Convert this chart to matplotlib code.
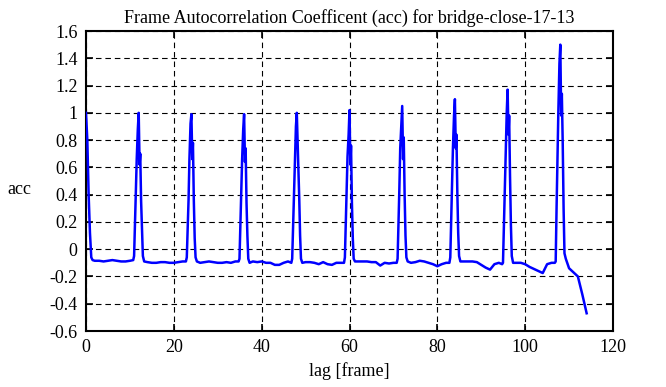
import numpy as np
import matplotlib
matplotlib.use("Agg")
import matplotlib.pyplot as plt

plt.rcParams['font.family'] = ['Liberation Serif', 'DejaVu Serif']
plt.rcParams['axes.unicode_minus'] = False

# lag 0 peak (right half only)
start_lag = [0, 0.3, 0.6, 0.9, 1.2]
start_acc = [1.0, 0.8, 0.4, 0.12, -0.06]

# baseline between peaks
base_lag = [1.5, 2, 3, 4, 5, 6, 7, 8, 9, 10,
            14, 15, 16, 17, 18, 19, 20, 21, 22,
            26, 27, 28, 29, 30, 31, 32, 33, 34,
            38, 39, 40, 41, 42, 43, 44, 45, 46,
            50, 51, 52, 53, 54, 55, 56, 57, 58,
            62, 63, 64, 65, 66, 67, 68, 69, 70,
            74, 75, 76, 77, 78, 79, 80, 81, 82,
            86, 87, 88, 89, 90, 91, 92, 93, 94,
            98, 99, 100, 101, 102, 103, 104, 105, 106,
            110, 111, 112, 113, 114]
base_acc = [-0.08, -0.085, -0.085, -0.09, -0.085, -0.08, -0.085, -0.09, -0.09, -0.085,
            -0.095, -0.10, -0.10, -0.095, -0.095, -0.10, -0.10, -0.095, -0.09,
            -0.10, -0.095, -0.09, -0.095, -0.10, -0.10, -0.095, -0.10, -0.09,
            -0.09, -0.095, -0.09, -0.10, -0.10, -0.115, -0.115, -0.10, -0.09,
            -0.095, -0.095, -0.10, -0.11, -0.095, -0.11, -0.115, -0.10, -0.10,
            -0.09, -0.09, -0.09, -0.095, -0.095, -0.12, -0.10, -0.105, -0.10,
            -0.10, -0.095, -0.085, -0.09, -0.10, -0.11, -0.125, -0.11, -0.10,
            -0.09, -0.09, -0.09, -0.095, -0.115, -0.135, -0.15, -0.11, -0.10,
            -0.10, -0.10, -0.11, -0.13, -0.145, -0.16, -0.175, -0.11, -0.10,
            -0.14, -0.17, -0.20, -0.33, -0.47]

# periodic peaks, sampled around each centre
peak_centre = [12, 24, 36, 48, 60, 72, 84, 96, 108]
peak_offset = [-1.25, -1.05, -0.85, -0.65, -0.45, -0.2, 0.0, 0.2, 0.35, 0.55, 0.75, 0.95, 1.25]
peak_acc = [
    [-0.08, -0.05, 0.20, 0.42, 0.66, 0.88, 1.00, 0.62, 0.70, 0.35, 0.14, -0.05, -0.09],
    [-0.09, -0.06, 0.16, 0.36, 0.66, 0.92, 0.99, 0.66, 0.78, 0.36, 0.08, -0.06, -0.09],
    [-0.09, -0.07, 0.18, 0.40, 0.66, 0.88, 0.99, 0.64, 0.74, 0.34, 0.10, -0.07, -0.10],
    [-0.10, -0.07, 0.16, 0.38, 0.64, 0.90, 1.00, 0.76, 0.60, 0.38, 0.10, -0.07, -0.10],
    [-0.10, -0.06, 0.18, 0.40, 0.68, 0.84, 1.02, 0.62, 0.76, 0.34, 0.08, -0.07, -0.09],
    [-0.10, -0.07, 0.18, 0.44, 0.74, 0.92, 1.05, 0.66, 0.82, 0.40, 0.10, -0.06, -0.09],
    [-0.10, -0.06, 0.20, 0.44, 0.74, 0.98, 1.10, 0.74, 0.84, 0.42, 0.12, -0.05, -0.09],
    [-0.11, -0.10, 0.16, 0.42, 0.66, 1.00, 1.17, 0.84, 0.98, 0.54, 0.18, -0.05, -0.10],
    [-0.10, -0.09, 0.30, 0.64, 1.00, 1.36, 1.50, 0.98, 1.14, 0.78, 0.30, -0.03, -0.07],
]

xticks = [0, 20, 40, 60, 80, 100, 120]
yticks = [-0.6, -0.4, -0.2, 0, 0.2, 0.4, 0.6, 0.8, 1, 1.2, 1.4, 1.6]

# merge everything into one sorted series
lag = list(start_lag) + list(base_lag)
acc = list(start_acc) + list(base_acc)
for c, vals in zip(peak_centre, peak_acc):
    for o, v in zip(peak_offset, vals):
        lag.append(c + o)
        acc.append(v)
order = np.argsort(lag)
lag = np.array(lag)[order]
acc = np.array(acc)[order]

fig = plt.figure(figsize=(6.66, 3.87), dpi=100)
ax = fig.add_axes([86 / 666, 1 - 331 / 387, (613 - 86) / 666, (331 - 31) / 387])

ax.plot(lag, acc, color="#0000ff", linewidth=1.8, zorder=3)

ax.set_xlim(0, 120)
ax.set_ylim(-0.6, 1.6)
ax.set_xticks(xticks)
ax.set_yticks(yticks)
ax.set_xticklabels([str(t) for t in xticks])
ax.set_yticklabels(["%g" % t for t in yticks])
ax.grid(True, color="black", linestyle=(0, (5, 3.5)), linewidth=0.8)
ax.tick_params(direction="in", length=5, width=1.2, top=True, right=True,
               labelsize=13, pad=6, colors="black")
for s in ax.spines.values():
    s.set_linewidth(1.5)

ax.set_title("Frame Autocorrelation Coefficent (acc) for bridge-close-17-13",
             fontsize=13, pad=6)
ax.set_xlabel("lag [frame]", fontsize=13, labelpad=4)
ax.set_ylabel("acc", fontsize=13, rotation=0, va="center", ha="center")
ax.yaxis.set_label_coords(-0.127, 0.47)

fig.savefig("out.png", dpi=100)
